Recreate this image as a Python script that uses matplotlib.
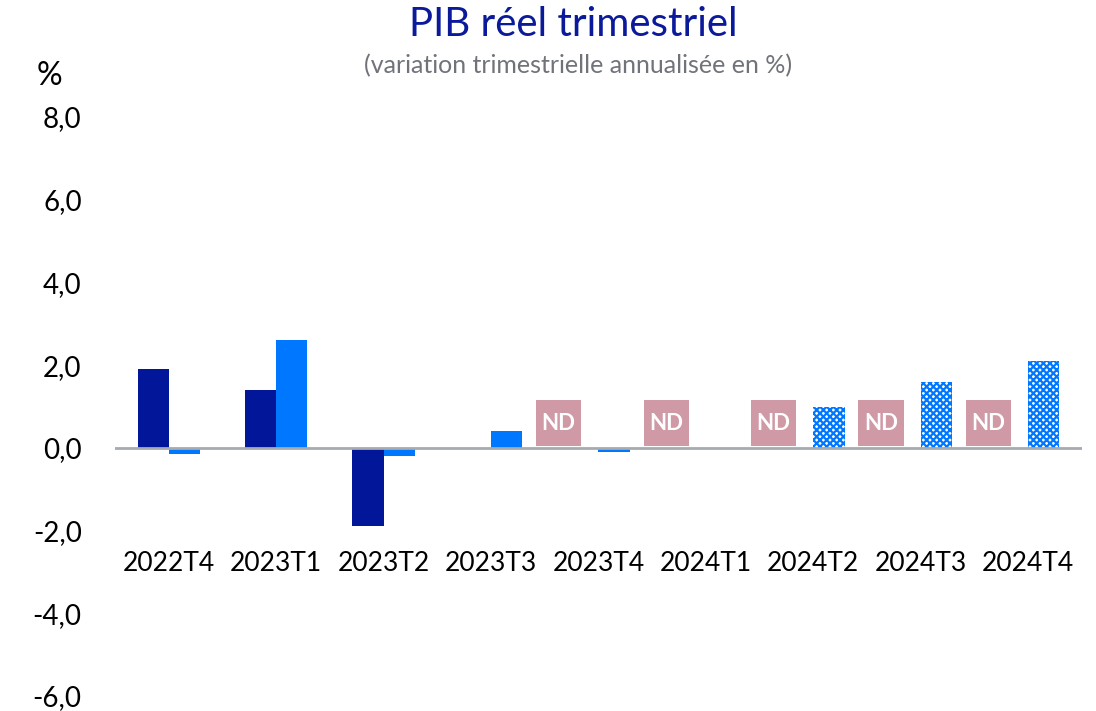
import numpy as np
import matplotlib
matplotlib.use("Agg")
import matplotlib.pyplot as plt
from matplotlib.ticker import FuncFormatter

plt.rcParams["font.family"] = ["Lato", "DejaVu Sans"]
plt.rcParams["hatch.linewidth"] = 1.6

# data
quarters = ["2022T4", "2023T1", "2023T2", "2023T3", "2023T4",
            "2024T1", "2024T2", "2024T3", "2024T4"]
series_dark = [1.9, 1.4, -1.9, np.nan, np.nan, np.nan, np.nan, np.nan, np.nan]
series_light = [-0.15, 2.6, -0.2, 0.4, -0.1, np.nan, 1.0, 1.6, 2.1]
light_projected = [False, False, False, False, False, False, True, True, True]
dark_nd = [False, False, False, False, True, True, True, True, True]
nd_height = 1.1

DARK = "#02169A"
LIGHT = "#0077FF"
PINK = "#CF9AA6"
GREY = "#A7AAAE"

fig = plt.figure(figsize=(10.96, 7.11), dpi=100)
ax = fig.add_axes([0.1049, 0.0211, 0.8823, 0.8143])

x = np.arange(len(quarters))
w = 0.29

ax.bar(x - w / 2, series_dark, width=w, color=DARK, zorder=2)

light = np.array(series_light)
proj = np.array(light_projected)
ax.bar(x[~proj] + w / 2, light[~proj], width=w, color=LIGHT, zorder=2)
ax.bar(x[proj] + w / 2, light[proj], width=w, facecolor="white",
       edgecolor=LIGHT, hatch="xxxxx", linewidth=0, zorder=2)

# "ND" boxes (non disponible)
nd_x = x[np.array(dark_nd)] - 0.37
ax.bar(nd_x, [nd_height] * len(nd_x), width=0.42, bottom=0.05, color=PINK, zorder=2)
for xi in nd_x:
    ax.text(xi, 0.05 + nd_height / 2, "ND", ha="center", va="center",
            color="white", fontsize=16, fontweight="bold", zorder=3)

ax.axhline(0, color=GREY, lw=2, zorder=3)

ax.set_xlim(-0.5, len(quarters) - 0.5)
ax.set_ylim(-6, 8)
ax.set_yticks(np.arange(-6, 9, 2))
ax.yaxis.set_major_formatter(FuncFormatter(lambda v, p: f"{v:.1f}".replace(".", ",")))
ax.set_xticks(x)
ax.set_xticklabels(quarters)

for s in ax.spines.values():
    s.set_visible(False)
ax.spines["bottom"].set_position(("data", 0))
ax.tick_params(axis="x", length=0, pad=74, labelsize=19, colors="black")
ax.tick_params(axis="y", length=0, pad=24, labelsize=20, colors="black")

fig.text(0.523, 0.966, "PIB réel trimestriel", ha="center", va="center",
         color="#0A1A9A", fontsize=29)
fig.text(0.527, 0.907, "(variation trimestrielle annualisée en %)", ha="center",
         va="center", color="#70747A", fontsize=18)
fig.text(0.033, 0.893, "%", ha="left", va="center", fontsize=23)

fig.savefig("out.png", dpi=100)
